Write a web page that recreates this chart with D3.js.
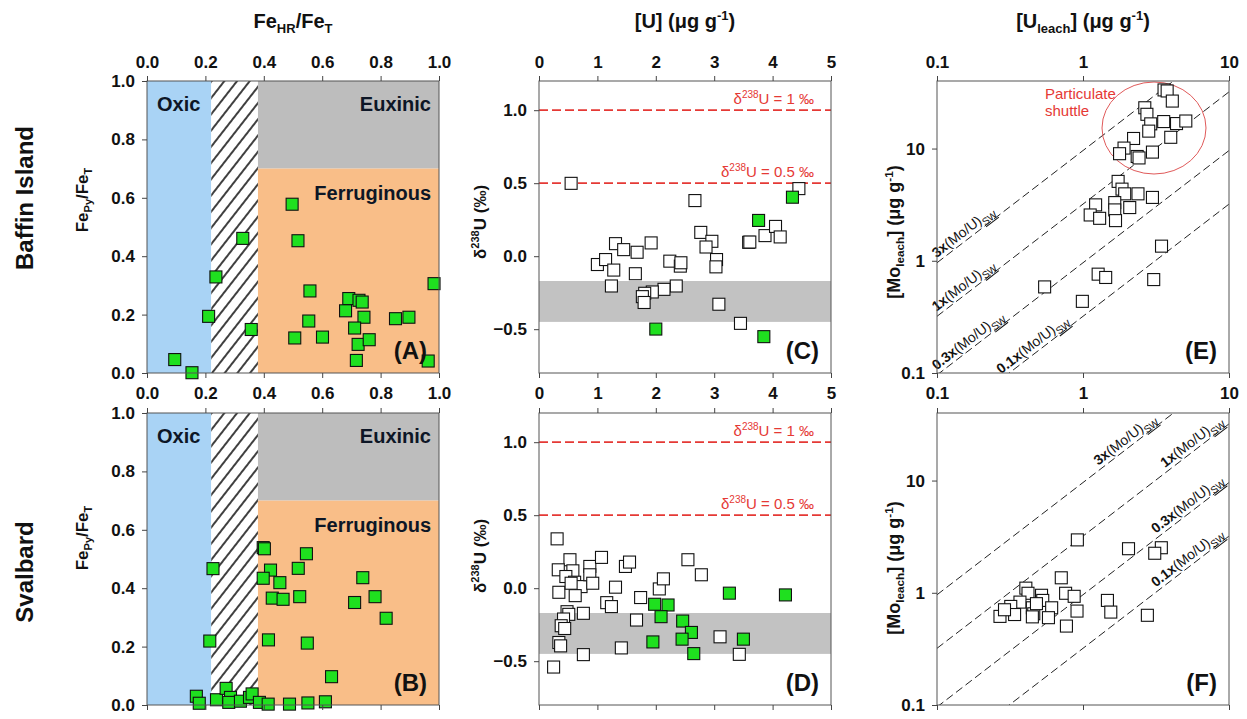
<!DOCTYPE html>
<html>
<head>
<meta charset="utf-8">
<script src="https://cdn.jsdelivr.net/npm/d3@7/dist/d3.min.js"></script>
<style>
  body { margin: 0; background: #fff; }
  svg { font-family: "Liberation Sans", Arial, sans-serif; }
  .tick text { font-weight: bold; font-size: 17px; fill: #111; }
  .tick line { stroke: #444; }
</style>
</head>
<body>
<div id="chart"></div>
<script>
//Tick values for each axis.
let feTicks = [0, 0.2, 0.4, 0.6, 0.8, 1.0]
let uTicks = [0, 1, 2, 3, 4, 5]
let dTicks = [-0.5, 0, 0.5, 1.0]
let logTicks = [0.1, 1, 10]

//Redox thresholds (FeHR/FeT and FePy/FeT).
let oxicMax = 0.22
let anoxicMin = 0.38
let euxinicMin = 0.7

//Panel A, Baffin Island iron speciation.
let baffinFeHR = [0.095, 0.154, 0.211, 0.236, 0.328, 0.357, 0.497, 0.517, 0.558, 0.554, 0.506, 0.601, 0.691, 0.726, 0.737, 0.680, 0.743, 0.711, 0.723, 0.761, 0.717, 0.851, 0.897, 0.983, 0.963]
let baffinFePy = [0.046, 0.001, 0.194, 0.329, 0.461, 0.149, 0.578, 0.453, 0.281, 0.178, 0.120, 0.123, 0.255, 0.249, 0.243, 0.213, 0.191, 0.154, 0.098, 0.114, 0.043, 0.186, 0.191, 0.306, 0.041]

//Panel B, Svalbard iron speciation.
let svalFeHR = [0.226, 0.215, 0.169, 0.179, 0.238, 0.271, 0.286, 0.280, 0.320, 0.351, 0.360, 0.385, 0.415, 0.398, 0.402, 0.546, 0.423, 0.518, 0.398, 0.455, 0.429, 0.466, 0.523, 0.416, 0.549, 0.632, 0.488, 0.551, 0.611, 0.739, 0.711, 0.781, 0.819]
let svalFePy = [0.467, 0.219, 0.030, 0.006, 0.018, 0.057, 0.026, 0.009, 0.013, 0.026, 0.038, 0.009, 0.003, 0.539, 0.535, 0.518, 0.462, 0.468, 0.434, 0.419, 0.366, 0.362, 0.371, 0.223, 0.212, 0.097, 0.003, 0.007, 0.011, 0.436, 0.351, 0.371, 0.297]

//Panel C, Baffin Island uranium isotopes (open = all, green = with Fe data).
let baffinU = [0.55, 2.67, 2.77, 2.96, 2.86, 3.04, 3.03, 3.59, 3.61, 3.87, 4.05, 4.13, 4.45, 1.31, 1.45, 1.68, 1.92, 1.00, 1.14, 1.28, 1.65, 1.24, 2.24, 2.42, 2.43, 2.35, 2.14, 1.94, 1.81, 1.77, 1.80, 3.08, 3.45]
let baffinD = [0.499, 0.381, 0.163, 0.102, 0.063, -0.023, -0.073, 0.095, 0.097, 0.141, 0.204, 0.132, 0.463, 0.086, 0.045, 0.027, 0.091, -0.057, -0.023, -0.095, -0.120, -0.204, -0.034, -0.068, -0.045, -0.204, -0.227, -0.245, -0.254, -0.277, -0.317, -0.329, -0.460]
let baffinUFe = [4.34, 3.76, 2.00, 3.85]
let baffinDFe = [0.404, 0.245, -0.499, -0.551]

//Panel D, Svalbard uranium isotopes.
let svalU = [0.31, 0.53, 0.33, 0.58, 0.46, 0.61, 0.72, 0.34, 0.62, 0.87, 0.87, 0.92, 1.07, 1.48, 1.55, 1.31, 1.16, 1.24, 0.76, 0.48, 0.51, 0.42, 0.38, 0.44, 0.34, 0.37, 0.76, 0.25, 1.41, 1.67, 1.74, 2.06, 2.13, 2.55, 2.78, 3.10, 3.43, 0.55]
let svalD = [0.338, 0.195, 0.126, 0.119, 0.080, 0.041, 0.011, -0.028, -0.051, 0.149, 0.092, 0.034, 0.211, 0.149, 0.179, 0.007, -0.099, -0.126, -0.172, -0.161, -0.179, -0.211, -0.257, -0.276, -0.372, -0.395, -0.455, -0.540, -0.409, -0.218, -0.064, -0.005, 0.064, 0.195, 0.092, -0.333, -0.453, 0.034]
let svalUFe = [1.98, 2.21, 2.09, 2.46, 2.61, 2.45, 1.95, 2.65, 3.26, 4.22, 3.50]
let svalDFe = [-0.110, -0.115, -0.195, -0.225, -0.303, -0.349, -0.368, -0.448, -0.034, -0.046, -0.349]

//Delta-238U reference lines and the grey band.
let refLines = [1, 0.5]
let refLabels = ["1", "0.5"]
let bandLow = -0.45
let bandHigh = -0.17

//Panel E, Baffin Island leachates.
let baffinUl = [3.59, 3.77, 4.09, 2.65, 2.74, 2.91, 2.82, 3.57, 4.37, 5.06, 3.99, 2.22, 1.91, 1.78, 2.35, 2.42, 2.99, 1.74, 1.85, 1.93, 2.38, 2.99, 1.65, 1.22, 1.65, 2.09, 1.12, 1.30, 1.67, 3.45, 0.546, 1.27, 1.43, 0.99, 3.05]
let baffinMo = [33.3, 32.6, 26.5, 23.1, 20.2, 16.6, 14.3, 17.4, 16.7, 17.6, 12.6, 12.3, 10.1, 9.0, 8.5, 8.25, 9.3, 5.1, 4.35, 3.95, 3.95, 3.67, 3.30, 3.15, 2.84, 2.98, 2.56, 2.39, 2.28, 1.35, 0.585, 0.76, 0.71, 0.435, 0.68]

//Panel F, Svalbard leachates.
let svalUl = [0.915, 2.05, 3.44, 3.10, 0.71, 0.406, 0.42, 0.52, 0.53, 0.76, 0.87, 0.37, 0.32, 0.45, 0.46, 0.45, 0.34, 0.27, 0.61, 0.58, 0.91, 0.77, 1.47, 1.55, 2.76, 0.29, 0.48]
let svalMo = [2.96, 2.47, 2.52, 2.25, 1.36, 1.10, 0.99, 0.95, 0.855, 0.99, 0.93, 0.826, 0.756, 0.735, 0.65, 0.61, 0.64, 0.616, 0.735, 0.60, 0.687, 0.505, 0.855, 0.673, 0.63, 0.706, 0.80]

//Seawater Mo/U ratio and the multiples drawn as dashed lines.
let moUsw = 3.2
let multiples = [3, 1, 0.3, 0.1]
let multipleNames = ["3x", "1x", "0.3x", "0.1x"]

//Layout of the six panels.
let w = 1247
let h = 719
let cols = [147, 539, 937]
let rows = [81, 413]
let pw = 292
let ph = 292
let sq = 12

let green = "#1fe01f"
let red = "#e53935"
let ink = "#111"

const svg = d3.select("#chart")
              .append("svg")
              .attr("width", w)
              .attr("height", h)

const defs = svg.append("defs")

//Hatch pattern for the transition zone.
const hatch = defs.append("pattern")
                  .attr("id", "hatch")
                  .attr("patternUnits", "userSpaceOnUse")
                  .attr("width", 10)
                  .attr("height", 10)
                  .attr("patternTransform", "rotate(38)")
hatch.append("rect").attr("width", 10).attr("height", 10).attr("fill", "#fff")
hatch.append("line")
     .attr("x1", 1).attr("y1", 0).attr("x2", 1).attr("y2", 10)
     .attr("stroke", "#000")
     .attr("stroke-width", 1.5)

defs.append("clipPath").attr("id", "plotclip")
    .append("rect").attr("width", pw).attr("height", ph)

function makePanel(col, row) {
  return svg.append("g").attr("transform", "translate(" + cols[col] + "," + rows[row] + ")")
}

//Draws axes: labels on the top and left, bare ticks at the bottom.
function drawAxes(g, x, y, xTicks, yTicks, xFmt, yFmt, topPad) {
  g.append("g").call(d3.axisTop(x).tickValues(xTicks).tickFormat(xFmt).tickSize(5).tickSizeOuter(0).tickPadding(topPad))
   .call(a => a.select(".domain").remove())
  g.append("g").attr("transform", "translate(0," + ph + ")")
   .call(d3.axisBottom(x).tickValues(xTicks).tickFormat("").tickSize(5).tickSizeOuter(0))
   .call(a => a.select(".domain").remove())
  g.append("g").call(d3.axisLeft(y).tickValues(yTicks).tickFormat(yFmt).tickSize(5).tickSizeOuter(0).tickPadding(7))
   .call(a => a.select(".domain").remove())
  g.selectAll(".tick text").attr("font-family", null).attr("font-size", null)
}

function drawFrame(g) {
  g.append("rect").attr("width", pw).attr("height", ph)
   .attr("fill", "none").attr("stroke", "#555").attr("stroke-width", 1)
}

function drawSquares(g, xs, ys, x, y, fill) {
  g.append("g").selectAll("rect")
   .data(xs.map((d, i) => [d, ys[i]]))
   .enter()
   .append("rect")
   .attr("x", d => x(d[0]) - sq / 2)
   .attr("y", d => y(d[1]) - sq / 2)
   .attr("width", sq)
   .attr("height", sq)
   .attr("fill", fill)
   .attr("stroke", "#111")
   .attr("stroke-width", 1.1)
}

function panelLabel(g, txt) {
  g.append("text").attr("x", pw - 12).attr("y", ph - 14)
   .attr("text-anchor", "end").attr("font-size", 24).attr("font-weight", "bold")
   .attr("fill", ink).text(txt)
}

//Panels A and B.
function drawRedox(row, feHR, fePy, label) {
  const g = makePanel(0, row)
  const x = d3.scaleLinear().domain([0, 1]).range([0, pw])
  const y = d3.scaleLinear().domain([0, 1]).range([ph, 0])

  g.append("rect").attr("x", x(0)).attr("y", y(1))
   .attr("width", x(oxicMax) - x(0)).attr("height", ph).attr("fill", "#a9d3f5")
  g.append("rect").attr("x", x(oxicMax)).attr("y", y(1))
   .attr("width", x(anoxicMin) - x(oxicMax)).attr("height", ph).attr("fill", "url(#hatch)")
  g.append("rect").attr("x", x(anoxicMin)).attr("y", y(1))
   .attr("width", x(1) - x(anoxicMin)).attr("height", y(euxinicMin) - y(1)).attr("fill", "#bdbdbd")
  g.append("rect").attr("x", x(anoxicMin)).attr("y", y(euxinicMin))
   .attr("width", x(1) - x(anoxicMin)).attr("height", y(0) - y(euxinicMin)).attr("fill", "#f9be88")

  const zone = (t, xx, yy, anchor) => g.append("text").attr("x", xx).attr("y", yy)
      .attr("text-anchor", anchor).attr("font-size", 20).attr("font-weight", "bold")
      .attr("fill", "#0d1626").text(t)
  zone("Oxic", 10, 30, "start")
  zone("Euxinic", pw - 8, 30, "end")
  zone("Ferruginous", pw - 8, 119, "end")

  drawSquares(g, feHR, fePy, x, y, green)
  drawFrame(g)
  drawAxes(g, x, y, feTicks, feTicks, d3.format(".1f"), d3.format(".1f"), row === 0 ? 8 : 9)
  panelLabel(g, label)
}

//Panels C and D.
function drawIsotopes(row, uAll, dAll, uFe, dFe, label) {
  const g = makePanel(1, row)
  const x = d3.scaleLinear().domain([0, 5]).range([0, pw])
  const y = d3.scaleLinear().domain([-0.8, 1.2]).range([ph, 0])

  g.append("rect").attr("x", 0).attr("y", y(bandHigh))
   .attr("width", pw).attr("height", y(bandLow) - y(bandHigh)).attr("fill", "#c2c2c2")

  refLines.forEach((v, i) => {
    g.append("line").attr("x1", 0).attr("x2", pw).attr("y1", y(v)).attr("y2", y(v))
     .attr("stroke", red).attr("stroke-width", 1.8).attr("stroke-dasharray", "9,4")
    const t = g.append("text").attr("x", pw - 17).attr("y", y(v) - 6)
               .attr("text-anchor", "end").attr("font-size", 15).attr("fill", red)
    t.append("tspan").text("δ")
    t.append("tspan").attr("font-size", 10).attr("dy", -6).text("238")
    t.append("tspan").attr("dy", 6).text("U = " + refLabels[i] + " ‰")
  })

  drawSquares(g, uAll, dAll, x, y, "#fff")
  drawSquares(g, uFe, dFe, x, y, green)
  drawFrame(g)
  drawAxes(g, x, y, uTicks, dTicks, d3.format("d"), d3.format(".1f"), row === 0 ? 8 : 9)
  panelLabel(g, label)
}

//Panels E and F.
function drawLeach(row, ul, mo, label) {
  const g = makePanel(2, row)
  const x = d3.scaleLog().domain([0.1, 10]).range([0, pw])
  const y = d3.scaleLog().domain([0.1, 40]).range([ph, 0])
  const angle = Math.atan((y(1) - y(10)) / (x(10) - x(1))) * 180 / Math.PI

  const lines = g.append("g").attr("clip-path", "url(#plotclip)")
  multiples.forEach((k, i) => {
    lines.append("line")
         .attr("x1", x(0.1)).attr("y1", y(k * moUsw * 0.1))
         .attr("x2", x(10)).attr("y2", y(k * moUsw * 10))
         .attr("stroke", "#222").attr("stroke-width", 1).attr("stroke-dasharray", "8,4")

    //Labels sit along the lines: at the start in E, at the end in F.
    const u = row === 0 ? [0.103, 0.103, 0.103, 0.285][i] : [3.35, 9.6, 9.6, 9.6][i]
    const t = g.append("text")
               .attr("transform", "translate(" + x(u) + "," + y(k * moUsw * u) + ") rotate(" + (-angle) + ")")
               .attr("y", -4)
               .attr("text-anchor", row === 0 ? "start" : "end")
               .attr("font-size", 14).attr("fill", "#111")
    t.append("tspan").attr("font-weight", "bold").text(multipleNames[i])
    t.append("tspan").text("(Mo/U)")
    t.append("tspan").attr("font-size", 10).attr("dy", 4)
     .attr("text-decoration", "underline").text("SW")
  })

  if (row === 0) {
    g.append("ellipse").attr("cx", 217).attr("cy", 47).attr("rx", 52).attr("ry", 46)
     .attr("fill", "none").attr("stroke", "#e05a5a").attr("stroke-width", 1)
    g.append("text").attr("x", 108).attr("y", 18).attr("font-size", 15).attr("fill", red).text("Particulate")
    g.append("text").attr("x", 108).attr("y", 35).attr("font-size", 15).attr("fill", red).text("shuttle")
  }

  drawSquares(g, ul, mo, x, y, "#fff")
  drawFrame(g)
  drawAxes(g, x, y, logTicks, logTicks, d => String(d), d => String(d), row === 0 ? 8 : 9)
  panelLabel(g, label)
}

drawRedox(0, baffinFeHR, baffinFePy, "(A)")
drawRedox(1, svalFeHR, svalFePy, "(B)")
drawIsotopes(0, baffinU, baffinD, baffinUFe, baffinDFe, "(C)")
drawIsotopes(1, svalU, svalD, svalUFe, svalDFe, "(D)")
drawLeach(0, baffinUl, baffinMo, "(E)")
drawLeach(1, svalUl, svalMo, "(F)")

//Axis titles at the top of each column.
function title(xc, parts) {
  const t = svg.append("text").attr("x", xc).attr("y", 28)
               .attr("text-anchor", "middle").attr("font-size", 20).attr("font-weight", "bold").attr("fill", ink)
  parts.forEach(p => {
    const s = t.append("tspan").text(p[0])
    if (p[1] === "sub") s.attr("font-size", 13).attr("dy", 5)
    if (p[1] === "sup") s.attr("font-size", 13).attr("dy", -8)
    if (p[1] === "back") s.attr("dy", -5)
    if (p[1] === "up") s.attr("dy", 8)
  })
}
title(cols[0] + pw / 2, [["Fe"], ["HR", "sub"], ["/Fe", "back"], ["T", "sub"]])
title(cols[1] + pw / 2, [["[U] (μg g"], ["-1", "sup"], [")", "up"]])
title(cols[2] + pw / 2, [["[U"], ["leach", "sub"], ["] (μg g", "back"], ["-1", "sup"], [")", "up"]])

//Rotated labels on the left of each panel.
function sideLabel(xb, yc, size, parts) {
  const t = svg.append("text")
               .attr("transform", "translate(" + xb + "," + yc + ") rotate(-90)")
               .attr("text-anchor", "middle").attr("font-size", size).attr("font-weight", "bold").attr("fill", ink)
  parts.forEach(p => {
    const s = t.append("tspan").text(p[0])
    if (p[1] === "sub") s.attr("font-size", size * 0.65).attr("dy", 4)
    if (p[1] === "sup") s.attr("font-size", size * 0.65).attr("dy", -7)
    if (p[1] === "back") s.attr("dy", -4)
    if (p[1] === "up") s.attr("dy", 7)
  })
}
sideLabel(33, 198, 24, [["Baffin Island"]])
sideLabel(33, 572, 24, [["Svalbard"]])

const feLabel = [["Fe"], ["Py", "sub"], ["/Fe", "back"], ["T", "sub"]]
sideLabel(88, 200, 17, feLabel)
sideLabel(88, 538, 17, feLabel)

const dLabel = [["δ"], ["238", "sup"], ["U (‰)", "up"]]
sideLabel(486, 222, 17, dLabel)
sideLabel(486, 556, 17, dLabel)

const moLabel = [["[Mo"], ["leach", "sub"], ["] (μg g", "back"], ["-1", "sup"], [")", "up"]]
sideLabel(900, 232, 18, moLabel)
sideLabel(900, 568, 18, moLabel)
</script>
</body>
</html>
